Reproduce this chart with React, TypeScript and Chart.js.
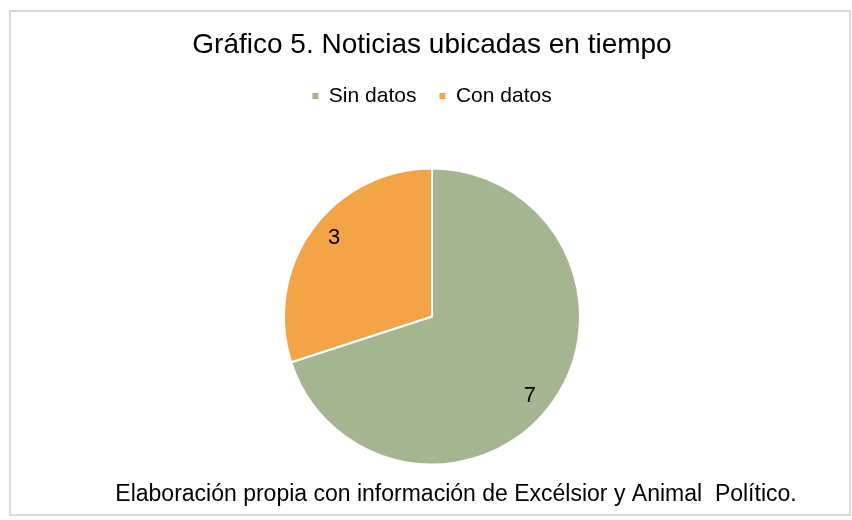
import React, { useEffect, useRef } from "react";
import { Chart, registerables } from "chart.js";

Chart.register(...registerables);

const categories = ["Sin datos", "Con datos"];
const values = [7, 3];
const colors = ["#A5B592", "#F3A447"];
const titleText = "Gráfico 5. Noticias ubicadas en tiempo";
const footerText = "Elaboración propia con información de Excélsior y Animal  Político.";

const FONT = "'Liberation Sans', Arial, Helvetica, sans-serif";

const framePlugin = {
  id: "frame",
  beforeDraw(chart: any) {
    const ctx = chart.ctx;
    ctx.save();
    ctx.fillStyle = "#ffffff";
    ctx.fillRect(0, 0, chart.width, chart.height);
    ctx.strokeStyle = "#d9d9d9";
    ctx.lineWidth = 2;
    ctx.strokeRect(10, 11, 840, 504);
    ctx.restore();
  },
};

const valueLabelPlugin = {
  id: "valueLabels",
  afterDatasetsDraw(chart: any) {
    const ctx = chart.ctx;
    const meta = chart.getDatasetMeta(0);
    const data = chart.data.datasets[0].data;
    ctx.save();
    ctx.font = `22px ${FONT}`;
    ctx.fillStyle = "#000000";
    ctx.textAlign = "center";
    ctx.textBaseline = "middle";
    meta.data.forEach((arc: any, i: number) => {
      const { x, y, startAngle, endAngle, outerRadius } = arc.getProps(
        ["x", "y", "startAngle", "endAngle", "outerRadius"],
        true
      );
      const mid = (startAngle + endAngle) / 2 + 0.05;
      const r = outerRadius * 0.85;
      ctx.fillText(String(data[i]), x + Math.cos(mid) * r, y + Math.sin(mid) * r);
    });
    ctx.restore();
  },
};

const footerPlugin = {
  id: "footerNote",
  afterDraw(chart: any) {
    const ctx = chart.ctx;
    ctx.save();
    ctx.font = `23px ${FONT}`;
    ctx.fillStyle = "#000000";
    ctx.textAlign = "center";
    ctx.textBaseline = "alphabetic";
    ctx.fillText(footerText, 456, 501);
    ctx.restore();
  },
};

export default function App() {
  const ref = useRef<HTMLCanvasElement | null>(null);

  useEffect(() => {
    if (!ref.current) return;
    const chart = new Chart(ref.current, {
      type: "pie",
      data: {
        labels: categories,
        datasets: [
          {
            data: values,
            backgroundColor: colors,
            borderColor: "#ffffff",
            borderWidth: 2,
          },
        ],
      },
      options: {
        responsive: false,
        animation: false,
        radius: 148,
        layout: { padding: { left: 12, right: 0, top: 0, bottom: 3.5 } },
        plugins: {
          title: {
            display: true,
            text: titleText,
            color: "#000000",
            font: { family: FONT, size: 28, weight: "normal", lineHeight: 1 },
            padding: { top: 31.3, bottom: 3.2 },
          },
          legend: {
            display: true,
            position: "top",
            labels: {
              color: "#000000",
              font: { family: FONT, size: 21 },
              boxWidth: 6,
              boxHeight: 6,
              padding: 23,
              generateLabels(chart: any) {
                const base = (Chart as any).overrides.pie.plugins.legend.labels.generateLabels(chart);
                return base.map((l: any) => ({ ...l, lineWidth: 0, strokeStyle: "rgba(0,0,0,0)" }));
              },
            },
          },
          tooltip: { enabled: false },
        },
      } as any,
      plugins: [framePlugin, valueLabelPlugin, footerPlugin],
    });
    return () => chart.destroy();
  }, []);

  return (
    <div style={{ position: "absolute", left: 0, top: 0, width: 852, height: 520 }}>
      <canvas ref={ref} width={852} height={520} />
    </div>
  );
}
